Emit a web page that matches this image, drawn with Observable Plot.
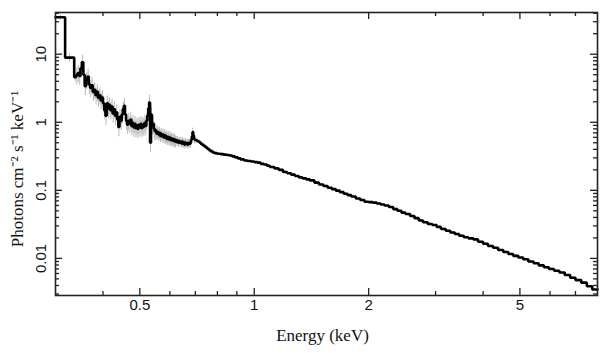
<!DOCTYPE html>
<html>
<head>
<meta charset="utf-8">
<script src="https://cdn.jsdelivr.net/npm/d3@7"></script>
<script src="https://cdn.jsdelivr.net/npm/@observablehq/plot@0.6"></script>
<style>
  html, body { margin: 0; padding: 0; background: #fff; }
  #chart { width: 609px; height: 357px; }
</style>
</head>
<body>
<div id="chart"></div>
<script>
// Bin low edges (keV)
const binLow = [
  0.300, 0.318, 0.336,
  0.340, 0.343, 0.346, 0.349, 0.352, 0.355, 0.358, 0.361, 0.364, 0.367,
  0.370, 0.373, 0.376, 0.379, 0.382, 0.385, 0.388, 0.391, 0.394, 0.397,
  0.400, 0.403, 0.406, 0.409, 0.412, 0.415, 0.418, 0.421, 0.424, 0.427,
  0.430, 0.433, 0.436, 0.439, 0.442, 0.445, 0.448, 0.451, 0.454, 0.457,
  0.460, 0.463, 0.466, 0.469, 0.472, 0.475, 0.478, 0.481, 0.484, 0.487,
  0.490, 0.493, 0.496, 0.499, 0.502, 0.505, 0.508, 0.511, 0.514, 0.517,
  0.520, 0.523, 0.526, 0.529, 0.532, 0.535, 0.538, 0.541, 0.544, 0.547,
  0.550, 0.553, 0.556, 0.559, 0.562, 0.565, 0.568, 0.571, 0.574, 0.577,
  0.580, 0.583, 0.586, 0.589, 0.592, 0.595, 0.598, 0.601, 0.604, 0.607,
  0.610, 0.613, 0.616, 0.619, 0.622, 0.625, 0.628, 0.631, 0.634, 0.637,
  0.640, 0.643, 0.646, 0.649, 0.652, 0.655, 0.658, 0.661, 0.664, 0.667,
  0.670, 0.673, 0.676, 0.679, 0.682, 0.685, 0.688, 0.691, 0.694, 0.697,
  0.700, 0.706, 0.712, 0.718, 0.724, 0.730, 0.736, 0.742, 0.748, 0.754,
  0.760, 0.766, 0.772, 0.778, 0.784, 0.790,
  0.800, 0.815, 0.830, 0.845, 0.860, 0.875, 0.890,
  0.905, 0.920, 0.940, 0.960, 0.980, 1.000, 1.020, 1.040, 1.060, 1.080,
  1.100, 1.130, 1.160, 1.190, 1.220, 1.250, 1.280, 1.310, 1.340, 1.370,
  1.400, 1.440, 1.480, 1.520, 1.560, 1.600, 1.640, 1.680, 1.720, 1.760,
  1.800, 1.850, 1.900, 1.950, 2.000, 2.050, 2.100, 2.150, 2.200, 2.260,
  2.320, 2.380, 2.440, 2.500, 2.570, 2.640, 2.710, 2.780, 2.860, 2.940,
  3.020, 3.100, 3.190, 3.280, 3.370, 3.460, 3.560, 3.660, 3.770, 3.880,
  4.000, 4.120, 4.250, 4.380, 4.520, 4.660, 4.800, 4.950, 5.100, 5.260,
  5.430, 5.600, 5.780, 5.960, 6.150, 6.350, 6.560, 6.780, 7.000, 7.250,
  7.500, 7.750
];
const lastEdge = 8.0;
// Flux (photons cm^-2 s^-1 keV^-1) of each bin
const flux = [
  35, 8.9, 4.6,
  4.9, 5.3, 4.8, 6.2, 7.6, 5.0, 3.4, 4.2, 4.7, 3.6,
  3.2, 3.5, 2.8, 3.0, 2.5, 2.8, 2.3, 2.5, 2.1, 2.3,
  1.9, 1.5, 1.25, 1.9, 1.6, 1.8, 1.5, 1.7, 1.35, 1.55,
  1.25, 1.4, 1.1, 0.85, 1.2, 1.05, 1.3, 1.55, 1.75, 1.3,
  1.05, 0.92, 1.05, 0.95, 1.1, 0.88, 0.98, 0.84, 0.95, 0.82,
  0.9, 0.8, 0.92, 0.84, 0.95, 0.82, 0.92, 0.86, 0.98, 0.88,
  1.05, 1.25, 1.6, 1.95, 0.5, 1.3, 0.9, 0.95, 0.8, 0.74,
  0.76, 0.68, 0.72, 0.66, 0.7, 0.63, 0.68, 0.62, 0.66, 0.6,
  0.65, 0.59, 0.62, 0.57, 0.61, 0.56, 0.6, 0.55, 0.58, 0.54,
  0.57, 0.53, 0.56, 0.52, 0.55, 0.51, 0.54, 0.5, 0.53, 0.5,
  0.52, 0.49, 0.52, 0.48, 0.51, 0.47, 0.5, 0.48, 0.5, 0.47,
  0.49, 0.5, 0.48, 0.5, 0.55, 0.62, 0.72, 0.64, 0.57, 0.55,
  0.55, 0.53, 0.52, 0.5, 0.48, 0.465, 0.45, 0.435, 0.42, 0.405,
  0.39, 0.38, 0.37, 0.36, 0.355, 0.35,
  0.345, 0.34, 0.335, 0.33, 0.325, 0.315, 0.305,
  0.295, 0.285, 0.275, 0.27, 0.265, 0.26, 0.255, 0.245, 0.24, 0.23,
  0.22, 0.21, 0.2, 0.186, 0.178, 0.17, 0.162, 0.155, 0.15, 0.145,
  0.14, 0.13, 0.122, 0.116, 0.109, 0.104, 0.099, 0.094, 0.089, 0.085,
  0.081, 0.076, 0.072, 0.068, 0.067, 0.066, 0.064, 0.062, 0.06, 0.057,
  0.053, 0.05, 0.047, 0.045, 0.042, 0.039, 0.036, 0.034, 0.032, 0.031,
  0.029, 0.027, 0.0255, 0.024, 0.0228, 0.0215, 0.0205, 0.0197, 0.019, 0.0176,
  0.0164, 0.0152, 0.0143, 0.0133, 0.0124, 0.0116, 0.0109, 0.0103, 0.0097, 0.009,
  0.0085, 0.0079, 0.0074, 0.007, 0.0066, 0.0062, 0.0057, 0.0052, 0.0048, 0.0044,
  0.0039, 0.0035
];
// Relative error by energy band (grey error bars): band lower edges and values
const errBandLow = [0.30, 0.318, 0.34, 0.55, 0.62, 0.70, 0.80];
const errBandVal = [0.08, 0.15, 0.28, 0.2, 0.14, 0.07, 0.03];

const xMajor = [0.5, 1, 2, 5];
const xMajorLabels = ["0.5", "1", "2", "5"];
const xMinor = [0.4, 0.6, 0.7, 0.8, 0.9, 3, 4, 6, 7];
const yMajor = [0.01, 0.1, 1, 10];
const yMajorLabels = ["0.01", "0.1", "1", "10"];
const yMinor = [0.003, 0.004, 0.005, 0.006, 0.007, 0.008, 0.009,
  0.02, 0.03, 0.04, 0.05, 0.06, 0.07, 0.08, 0.09,
  0.2, 0.3, 0.4, 0.5, 0.6, 0.7, 0.8, 0.9,
  2, 3, 4, 5, 6, 7, 8, 9, 20, 30, 40];
const xTitle = "Energy (keV)";
const yTitle = "Photons cm\u207B\u00B2 s\u207B\u00B9 keV\u207B\u00B9";

const xDomain = [0.3, 8.0];
const yDomain = [0.00285, 41];

const W = 609, H = 357;
const mL = 55, mR = 12, mT = 12, mB = 62;
const pw = W - mL - mR, ph = H - mT - mB;

const n = Math.min(binLow.length, flux.length);
const steps = [];
for (let i = 0; i < n; i++) steps.push({e: binLow[i], f: flux[i]});
steps.push({e: lastEdge, f: flux[n - 1]});
const bars = [];
for (let i = 0; i < n; i++) {
  const hi = i + 1 < n ? binLow[i + 1] : lastEdge;
  let r = errBandVal[0];
  for (let k = 0; k < errBandLow.length; k++) if (binLow[i] >= errBandLow[k]) r = errBandVal[k];
  bars.push({c: Math.sqrt(binLow[i] * hi), lo: flux[i] * (1 - r), hi: flux[i] * (1 + r)});
}

const sans = "'Liberation Sans', Arial, Helvetica, sans-serif";
const serif = "'Liberation Serif', 'Times New Roman', serif";
const majorLen = 7, minorLen = 4;
const yMinorIn = yMinor.filter(v => v > yDomain[0] && v < yDomain[1]);

const chart = Plot.plot({
  width: W, height: H,
  marginLeft: mL, marginRight: mR, marginTop: mT, marginBottom: mB,
  style: {background: "#fff", overflow: "visible"},
  x: {type: "log", domain: xDomain, axis: null},
  y: {type: "log", domain: yDomain, axis: null},
  marks: [
    Plot.ruleX(bars, {x: "c", y1: "lo", y2: "hi", stroke: "#b8b8b8", strokeWidth: 1}),
    Plot.line(steps, {x: "e", y: "f", curve: "step-after", stroke: "#000", strokeWidth: 2.6, strokeLinejoin: "miter"}),
    // inward ticks, bottom & top
    Plot.ruleX(xMajor, {x: d => d, insetTop: ph - majorLen, stroke: "#222", strokeWidth: 1.3}),
    Plot.ruleX(xMajor, {x: d => d, insetBottom: ph - majorLen, stroke: "#222", strokeWidth: 1.3}),
    Plot.ruleX(xMinor, {x: d => d, insetTop: ph - minorLen, stroke: "#222", strokeWidth: 1.3}),
    Plot.ruleX(xMinor, {x: d => d, insetBottom: ph - minorLen, stroke: "#222", strokeWidth: 1.3}),
    // inward ticks, left & right
    Plot.ruleY(yMajor, {y: d => d, insetRight: pw - majorLen, stroke: "#222", strokeWidth: 1.3}),
    Plot.ruleY(yMajor, {y: d => d, insetLeft: pw - majorLen, stroke: "#222", strokeWidth: 1.3}),
    Plot.ruleY(yMinorIn, {y: d => d, insetRight: pw - minorLen, stroke: "#222", strokeWidth: 1.3}),
    Plot.ruleY(yMinorIn, {y: d => d, insetLeft: pw - minorLen, stroke: "#222", strokeWidth: 1.3}),
    Plot.frame({stroke: "#222", strokeWidth: 1.6}),
    // tick labels
    Plot.text(xMajor, {x: d => d, text: (d, i) => xMajorLabels[i], frameAnchor: "bottom", dy: 14,
      textAnchor: "middle", fontSize: 15, fontFamily: sans, fill: "#111"}),
    Plot.text(yMajor, {y: d => d, text: (d, i) => yMajorLabels[i], frameAnchor: "left", dx: -14, rotate: -90,
      textAnchor: "middle", fontSize: 15, fontFamily: sans, fill: "#111"}),
    // axis titles
    Plot.text([xTitle], {text: d => d, frameAnchor: "bottom", dy: 45, dx: -4, textAnchor: "middle",
      fontSize: 17, fontFamily: serif, fill: "#111"}),
    Plot.text([yTitle], {text: d => d, frameAnchor: "left", dx: -38, dy: 15, rotate: -90, textAnchor: "middle",
      fontSize: 17, fontFamily: serif, fill: "#111"})
  ]
});
document.getElementById("chart").appendChild(chart);
</script>
</body>
</html>
